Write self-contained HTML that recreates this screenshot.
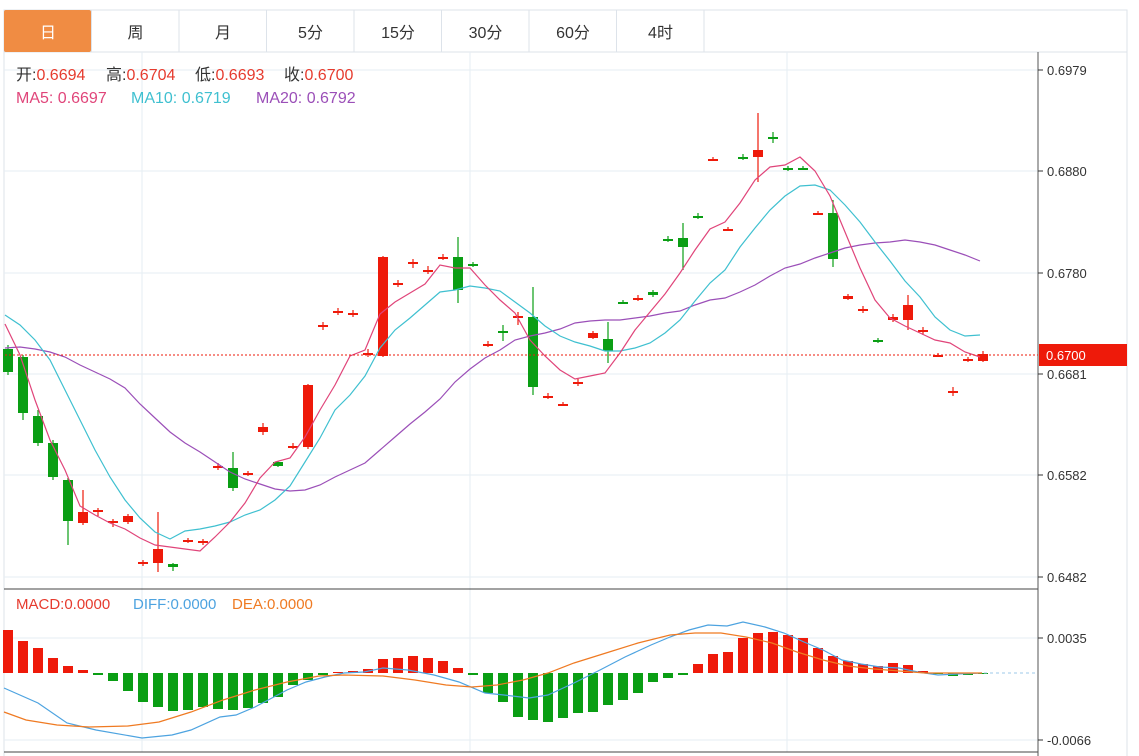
<!DOCTYPE html>
<html><head><meta charset="utf-8">
<style>
body{margin:0;background:#fff;width:1139px;height:756px;overflow:hidden;font-family:"Liberation Sans","Noto Sans CJK SC",sans-serif;}
svg{position:absolute;left:0;top:0}
</style></head><body>
<svg id="s" width="1139" height="756" xmlns="http://www.w3.org/2000/svg" font-family="Liberation Sans, Noto Sans CJK SC, sans-serif"></svg>
<script>
const s=document.getElementById('s');let h='';
h+='<rect x="4" y="10" width="1123" height="42" fill="#fff" stroke="#dde3ea"/>';
const tabs=['日','周','月','5分','15分','30分','60分','4时'];
tabs.forEach((t,i)=>{const x=4+i*87.5;
 if(i==0)h+=`<rect x="4" y="10" width="87" height="42" rx="2" fill="#f08c43"/>`;
 h+=`<line x1="${x+87.5}" y1="10" x2="${x+87.5}" y2="52" stroke="#dde3ea"/>`;
 h+=`<text x="${x+44}" y="38" font-size="16" text-anchor="middle" fill="${i==0?'#fff':'#333'}">${t}</text>`;});
h+='<line x1="4" y1="52" x2="4" y2="756" stroke="#dde3ea"/>';
h+='<line x1="1127" y1="52" x2="1127" y2="756" stroke="#dde3ea"/>';
[70,171,273,374,475,577].forEach(y=>h+=`<line x1="4" y1="${y}" x2="1038" y2="${y}" stroke="#e6edf3"/>`);
[142,470,787].forEach(x=>h+=`<line x1="${x}" y1="52" x2="${x}" y2="752" stroke="#e6edf3"/>`);
[638,740].forEach(y=>h+=`<line x1="4" y1="${y}" x2="1038" y2="${y}" stroke="#e6edf3"/>`);
h+='<line x1="4" y1="589" x2="1038" y2="589" stroke="#444"/>';
h+='<line x1="4" y1="752" x2="1038" y2="752" stroke="#444"/>';
h+='<line x1="1038" y1="52" x2="1038" y2="756" stroke="#555"/>';
[['0.6979',70],['0.6880',171],['0.6780',273],['0.6681',374],['0.6582',475],['0.6482',577],['0.0035',638],['-0.0066',740]].forEach(([t,y])=>{
 h+=`<line x1="1038" y1="${y}" x2="1043" y2="${y}" stroke="#333"/><text x="1047" y="${y+5}" font-size="13" fill="#333">${t}</text>`;});
const C=[[349,372,345,375],[357,413,355,420],[416,443,410,446],[443,477,440,480],[480,521,478,545],[523,512,490,525],[511,510,508,516],[523,521,519,527],[522,516,514,524],[563,562,560,566],[563,549,512,572],[564,567,563,571],[541,540,538,543],[543,541,539,545],[467,466,463,470],[468,488,452,491],[474,473,471,476],[432,427,423,435],[462,466,461,467],[447,446,443,449],[447,385,384,449],[326,325,322,330],[312,311,308,315],[314,313,310,317],[355,353,349,357],[356,257,256,357],[284,283,280,287],[263,262,259,268],[271,270,266,274],[258,257,254,260],[257,290,237,303],[264,265,262,267],[345,344,341,347],[331,332,325,341],[317,316,312,325],[317,387,287,395],[397,396,393,399],[405,404,402,406],[383,382,379,386],[338,333,331,339],[339,351,322,363],[302,303,300,304],[299,298,295,301],[292,295,290,297],[239,240,236,242],[238,247,223,270],[216,217,213,219],[160,159,157,161],[230,229,227,231],[157,158,154,160],[157,150,113,182],[137,138,132,143],[168,170,166,171],[168,169,166,170],[214,213,211,215],[213,259,200,267],[299,296,294,300],[310,309,306,313],[340,342,338,343],[320,317,314,322],[320,305,295,330],[331,330,327,335],[356,355,353,357],[392,391,387,396],[360,359,357,362],[361,354,351,362]];
C.forEach((c,i)=>{const x=8+15*i;const up=c[1]<c[0];const col=up?'#ee1a0a':'#0a9e14';
 h+=`<line x1="${x}" y1="${c[2]}" x2="${x}" y2="${c[3]}" stroke="${col}" stroke-width="1.2"/>`;
 const t=Math.min(c[0],c[1]),b=Math.max(c[0],c[1]);
 h+=`<rect x="${x-5}" y="${t}" width="10" height="${Math.max(2,b-t)}" fill="${col}"/>`;});
function pl(pts,col,w){return `<polyline fill="none" stroke="${col}" stroke-width="${w||1.2}" points="${pts}"/>`;}
const X=i=>5+15*i;
const ma5=[324,355,400,440,470,506,515,523,529,538,545,547,549,551,537,522,503,478,462,458,437,410,385,356,350,314,302,293,284,265,268,268,285,300,313,340,356,370,379,376,373,353,330,312,294,273,250,229,222,203,180,167,165,157,171,196,232,268,300,318,326,333,340,343,352,357];
const ma10=[315,325,340,360,390,420,450,477,500,518,532,539,531,529,526,522,515,510,500,486,462,438,410,395,376,348,330,318,305,292,290,286,288,291,302,313,326,336,342,346,351,351,348,343,333,320,301,283,270,247,228,210,196,186,185,190,205,222,242,261,281,297,317,330,336,335];
const ma20=[348,347,349,352,357,365,372,379,388,404,418,432,443,452,462,472,479,484,489,491,490,485,477,470,463,450,437,424,412,399,382,369,358,350,340,336,333,329,323,321,320,320,318,316,313,311,305,300,298,292,285,276,268,264,258,253,248,245,243,242,240,242,245,250,255,261];
h+=pl(ma20.map((y,i)=>X(i)+','+y).join(' '),'#9b4fb8');
h+=pl(ma10.map((y,i)=>X(i)+','+y).join(' '),'#3fc0d0');
h+=pl(ma5.map((y,i)=>X(i)+','+y).join(' '),'#e0457a');
h+='<line x1="5" y1="355" x2="1038" y2="355" stroke="#ee1a0a" stroke-dasharray="2,2"/>';
h+='<rect x="1039" y="344" width="88" height="22" fill="#ee1a0a"/><text x="1046" y="360" font-size="13" fill="#fff">0.6700</text>';
h+='<text y="80" font-size="16"><tspan x="16" fill="#333">开:</tspan><tspan fill="#e63b2e">0.6694</tspan><tspan x="106" fill="#333">高:</tspan><tspan fill="#e63b2e">0.6704</tspan><tspan x="195" fill="#333">低:</tspan><tspan fill="#e63b2e">0.6693</tspan><tspan x="284" fill="#333">收:</tspan><tspan fill="#e63b2e">0.6700</tspan></text>';
h+='<text y="103" font-size="16"><tspan x="16" fill="#e0457a">MA5: 0.6697</tspan><tspan x="131" fill="#3fc0d0">MA10: 0.6719</tspan><tspan x="256" fill="#9b4fb8">MA20: 0.6792</tspan></text>';
const M=[630,641,648,658,666,670,675,681,691,702,707,711,710,707,709,710,708,703,697,685,680,675,672,671,669,659,658,656,658,661,668,675,693,702,717,720,722,718,713,712,705,700,693,682,678,675,664,654,652,638,633,632,635,638,648,656,661,664,666,663,665,671,673,676,675,673];
const Z=673;
M.forEach((y,i)=>{const x=8+15*i;const col=y<Z?'#ee1a0a':'#0a9e14';const t=Math.min(y,Z),b=Math.max(y,Z);
 h+=`<rect x="${x-5}" y="${t}" width="10" height="${Math.max(1,b-t)}" fill="${col}"/>`;});
h+='<line x1="960" y1="673" x2="1036" y2="673" stroke="#9cc8ea" stroke-dasharray="3,3"/>';
const dif='4,688 38,703 67,723 96,730 142,738 172,735 191,730 220,717 236,715 255,707 287,690 306,682 325,677 344,673 364,672 383,668 408,670 434,675 459,682 485,693 504,695 529,698 548,695 574,683 600,670 625,657 651,645 670,637 689,630 708,625 727,626 743,622 765,627 784,633 804,642 823,650 842,660 861,664 880,667 899,668 918,672 938,675 957,674 982,673';
const dea='4,712 26,720 57,725 89,727 128,726 159,722 191,712 223,700 255,690 287,682 319,676 344,675 383,676 415,680 446,685 472,687 497,685 523,680 548,673 574,663 606,653 638,643 670,635 695,633 721,633 746,637 772,643 797,652 823,660 848,666 874,669 899,671 925,673 957,673 982,673';
h+=pl(dif,'#4da3e0');h+=pl(dea,'#ef7a22');
h+='<text y="609" font-size="15"><tspan x="16" fill="#e63b2e">MACD:0.0000</tspan><tspan x="133" fill="#4da3e0">DIFF:0.0000</tspan><tspan x="232" fill="#ef7a22">DEA:0.0000</tspan></text>';
s.innerHTML=h;
</script>
</body></html>
